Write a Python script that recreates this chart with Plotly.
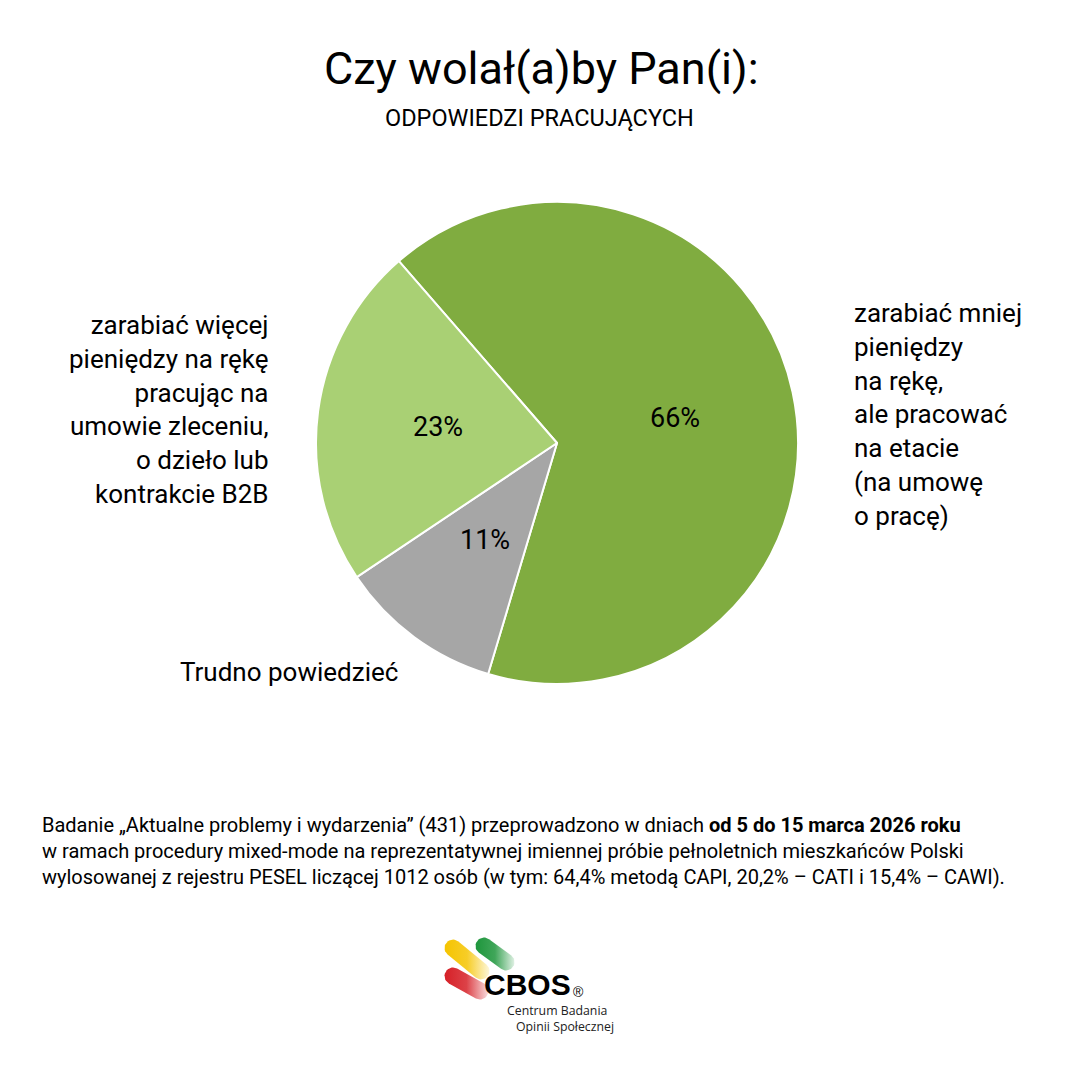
import numpy as np
import plotly.graph_objects as go

# ---- data ----
categories = [
    "zarabiać mniej pieniędzy na rękę, ale pracować na etacie (na umowę o pracę)",
    "Trudno powiedzieć",
    "zarabiać więcej pieniędzy na rękę pracując na umowie zleceniu, o dzieło lub kontrakcie B2B",
]
values = [66, 11, 23]
colors = ["#80AC40", "#A6A6A6", "#A9D074"]

title = "Czy wolał(a)by Pan(i):"
subtitle = "ODPOWIEDZI PRACUJĄCYCH"

W, H = 1080, 1078
FONT = "Roboto, sans-serif"
CX, CY, R = 557, 443, 241
ROT = -41

fig = go.Figure()

fig.add_trace(go.Pie(
    labels=categories,
    values=values,
    sort=False,
    direction="clockwise",
    rotation=ROT,
    marker=dict(colors=colors, line=dict(color="white", width=2)),
    textinfo="none",
    domain=dict(x=[(CX - R) / W, (CX + R) / W], y=[1 - (CY + R) / H, 1 - (CY - R) / H]),
    showlegend=False,
    hoverinfo="label+percent",
))

# ---- CBOS logo (pixel coordinate overlay axis) ----
def capsule(p1, p2, r, n=20):
    p1 = np.array(p1, float); p2 = np.array(p2, float)
    d = p2 - p1
    ang = np.arctan2(d[1], d[0])
    a1 = np.linspace(ang + np.pi / 2, ang + 3 * np.pi / 2, n)
    a2 = np.linspace(ang - np.pi / 2, ang + np.pi / 2, n)
    xs = np.concatenate([p1[0] + r * np.cos(a1), p2[0] + r * np.cos(a2), [p1[0] + r * np.cos(a1[0])]])
    ys = np.concatenate([p1[1] + r * np.sin(a1), p2[1] + r * np.sin(a2), [p1[1] + r * np.sin(a1[0])]])
    return xs, ys

pills = [
    ((453, 948), (481, 971), "245,196,0"),
    ((484, 946), (506, 962), "30,150,60"),
    ((453, 976), (480, 991), "214,32,39"),
]
for p1, p2, rgb in pills:
    xs, ys = capsule(p1, p2, 8.5)
    fig.add_trace(go.Scatter(
        x=xs, y=ys, mode="lines", fill="toself", line=dict(width=0),
        fillgradient=dict(type="horizontal",
                          colorscale=[[0, f"rgba({rgb},1)"], [0.5, f"rgba({rgb},0.85)"], [1, f"rgba({rgb},0.15)"]]),
        showlegend=False, hoverinfo="skip", xaxis="x", yaxis="y",
    ))

fig.update_layout(
    width=W, height=H,
    margin=dict(l=0, r=0, t=0, b=0),
    paper_bgcolor="white", plot_bgcolor="rgba(0,0,0,0)",
    xaxis=dict(range=[0, W], visible=False, fixedrange=True, domain=[0, 1]),
    yaxis=dict(range=[H, 0], visible=False, fixedrange=True, domain=[0, 1]),
    font=dict(family=FONT, color="black"),
)

ann = []
# percentage labels at half radius along each slice's mid-angle
total = sum(values)
cum = 0.0
for v in values:
    mid = ROT + 360.0 * (cum + v / 2) / total
    cum += v
    t = np.radians(mid)
    ann.append(dict(x=CX + 0.5 * R * np.sin(t), y=CY - 0.5 * R * np.cos(t),
                    text=f"{v}%", font=dict(size=27), xanchor="center", yanchor="middle"))

ann.append(dict(x=541, y=68, text=title, font=dict(size=45), xanchor="center", yanchor="middle"))
ann.append(dict(x=539, y=118, text=subtitle, font=dict(size=23.5), xanchor="center", yanchor="middle"))
ann.append(dict(x=271, y=409, xanchor="right", yanchor="middle", align="right",
                text="zarabiać więcej<br>pieniędzy na rękę<br>pracując na<br>umowie zleceniu,<br>o dzieło lub<br>kontrakcie B2B",
                font=dict(size=26)))
ann.append(dict(x=852, y=414, xanchor="left", yanchor="middle", align="left",
                text="zarabiać mniej<br>pieniędzy<br>na rękę,<br>ale pracować<br>na etacie<br>(na umowę<br>o pracę)",
                font=dict(size=26)))
ann.append(dict(x=178, y=672, xanchor="left", yanchor="middle", align="left",
                text="Trudno powiedzieć", font=dict(size=26)))
foot = ("Badanie „Aktualne problemy i wydarzenia” (431) przeprowadzono w dniach <b>od 5 do 15 marca 2026 roku</b><br>"
        "w ramach procedury mixed-mode na reprezentatywnej imiennej próbie pełnoletnich mieszkańców Polski<br>"
        "wylosowanej z rejestru PESEL liczącej 1012 osób (w tym: 64,4% metodą CAPI, 20,2% – CATI i 15,4% – CAWI).")
ann.append(dict(x=40, y=851, xanchor="left", yanchor="middle", align="left", text=foot, font=dict(size=20)))
ann.append(dict(x=482, y=984, xanchor="left", yanchor="middle", text="<b>CBOS</b>",
                font=dict(family="Arial, Liberation Sans, sans-serif", size=30, color="black")))
ann.append(dict(x=571, y=992, xanchor="left", yanchor="middle", text="®",
                font=dict(family="Arial, Liberation Sans, sans-serif", size=14, color="black")))
ann.append(dict(x=505, y=1010, xanchor="left", yanchor="middle", text="Centrum Badania",
                font=dict(family="Open Sans, sans-serif", size=12.3, color="#222")))
ann.append(dict(x=514, y=1026, xanchor="left", yanchor="middle", text="Opinii Społecznej",
                font=dict(family="Open Sans, sans-serif", size=12.3, color="#222")))
for a in ann:
    a.setdefault("xref", "x"); a.setdefault("yref", "y"); a["showarrow"] = False
fig.update_layout(annotations=ann)

fig.write_html("out.html", config={"displayModeBar": False},
               post_script="document.body.style.margin='0';")
